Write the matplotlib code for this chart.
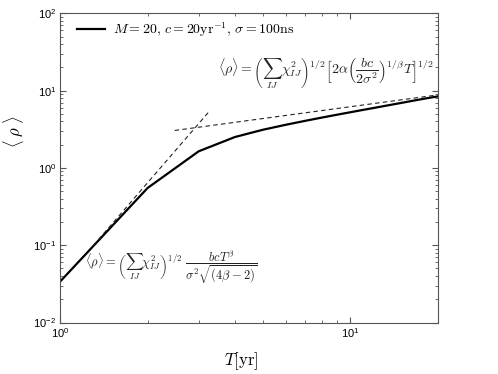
import numpy as np
import matplotlib
matplotlib.use('Agg')
import matplotlib.pyplot as plt
from matplotlib.font_manager import FontProperties
from matplotlib.ticker import LogLocator, NullFormatter

# datos
T = [1, 2, 3, 4, 5, 6, 7, 8, 9, 10, 11, 12, 13, 14, 15, 16, 17, 18, 19, 20]
rho = [0.034, 0.55, 1.64, 2.51, 3.12, 3.62, 4.07, 4.49, 4.88, 5.25,
       5.61, 5.95, 6.29, 6.62, 6.94, 7.26, 7.57, 7.87, 8.15, 8.4]

# asintotas (rectas en log-log)
T_bajo = [1.3, 3.25]
rho_bajo = [0.099, 5.3]
T_alto = [2.48, 20]
rho_alto = [3.05, 8.8]

etiqueta = r'$M=20,\,c=20\mathrm{yr}^{-1},\,\sigma=100\mathrm{ns}$'
formula_alta = (r'$\langle\rho\rangle=\left(\sum_{IJ}\chi^2_{IJ}\right)^{1/2}'
                r'\left[2\alpha\left(\dfrac{bc}{2\sigma^2}\right)^{1/\beta}T\right]^{1/2}$')
formula_baja = (r'$\langle\rho\rangle=\left(\sum_{IJ}\chi^2_{IJ}\right)^{1/2}'
                r'\ \dfrac{bcT^\beta}{\sigma^2\sqrt{(4\beta-2)}}$')

plt.rcParams['font.family'] = ['Liberation Sans', 'DejaVu Sans']
plt.rcParams['mathtext.fontset'] = 'custom'
plt.rcParams['mathtext.rm'] = 'Liberation Sans'
plt.rcParams['mathtext.it'] = 'Liberation Sans:italic'

fig = plt.figure(figsize=(4.98, 3.74), dpi=100)
ax = fig.add_axes([0.121, 0.1377, 0.758, 0.8267])

ax.loglog(T, rho, color='black', linewidth=1.6, label=etiqueta)
ax.loglog(T_bajo, rho_bajo, color='#222222', linewidth=0.8, linestyle=(0, (4, 3)))
ax.loglog(T_alto, rho_alto, color='#222222', linewidth=0.8, linestyle=(0, (4, 3)))

ax.set_xlim(1, 20)
ax.set_ylim(1e-2, 1e2)

ax.xaxis.set_minor_locator(LogLocator(base=10, subs=np.arange(2, 10), numticks=20))
ax.yaxis.set_minor_locator(LogLocator(base=10, subs=np.arange(2, 10), numticks=20))
ax.xaxis.set_minor_formatter(NullFormatter())
ax.tick_params(which='both', direction='in', top=True, right=True, color='#555555',
               labelsize=8, pad=3)
ax.tick_params(which='major', length=4)
ax.tick_params(which='minor', length=2)
for s in ax.spines.values():
    s.set_color('#555555')

cm = dict(math_fontfamily='cm')
ax.set_xlabel(r'$T[\mathrm{yr}]$', fontsize=12, **cm)
ax.xaxis.set_label_coords(0.479, -0.089)
ax.set_ylabel(r'$\langle\;\rho\;\rangle$', fontsize=12, **cm)
ax.yaxis.set_label_coords(-0.09, 0.616)

ax.text(0.418, 0.807, formula_alta, transform=ax.transAxes, fontsize=10,
        va='center', ha='left', color='#222222', **cm)
ax.text(0.065, 0.18, formula_baja, transform=ax.transAxes, fontsize=9,
        va='center', ha='left', color='#222222', **cm)

ax.legend(loc='upper left', bbox_to_anchor=(0.03, 0.994), frameon=False,
          handlelength=2.0, handletextpad=0.58, borderaxespad=0.0,
          prop=FontProperties(size=10, math_fontfamily='cm'))

fig.savefig('out.png', dpi=100)
